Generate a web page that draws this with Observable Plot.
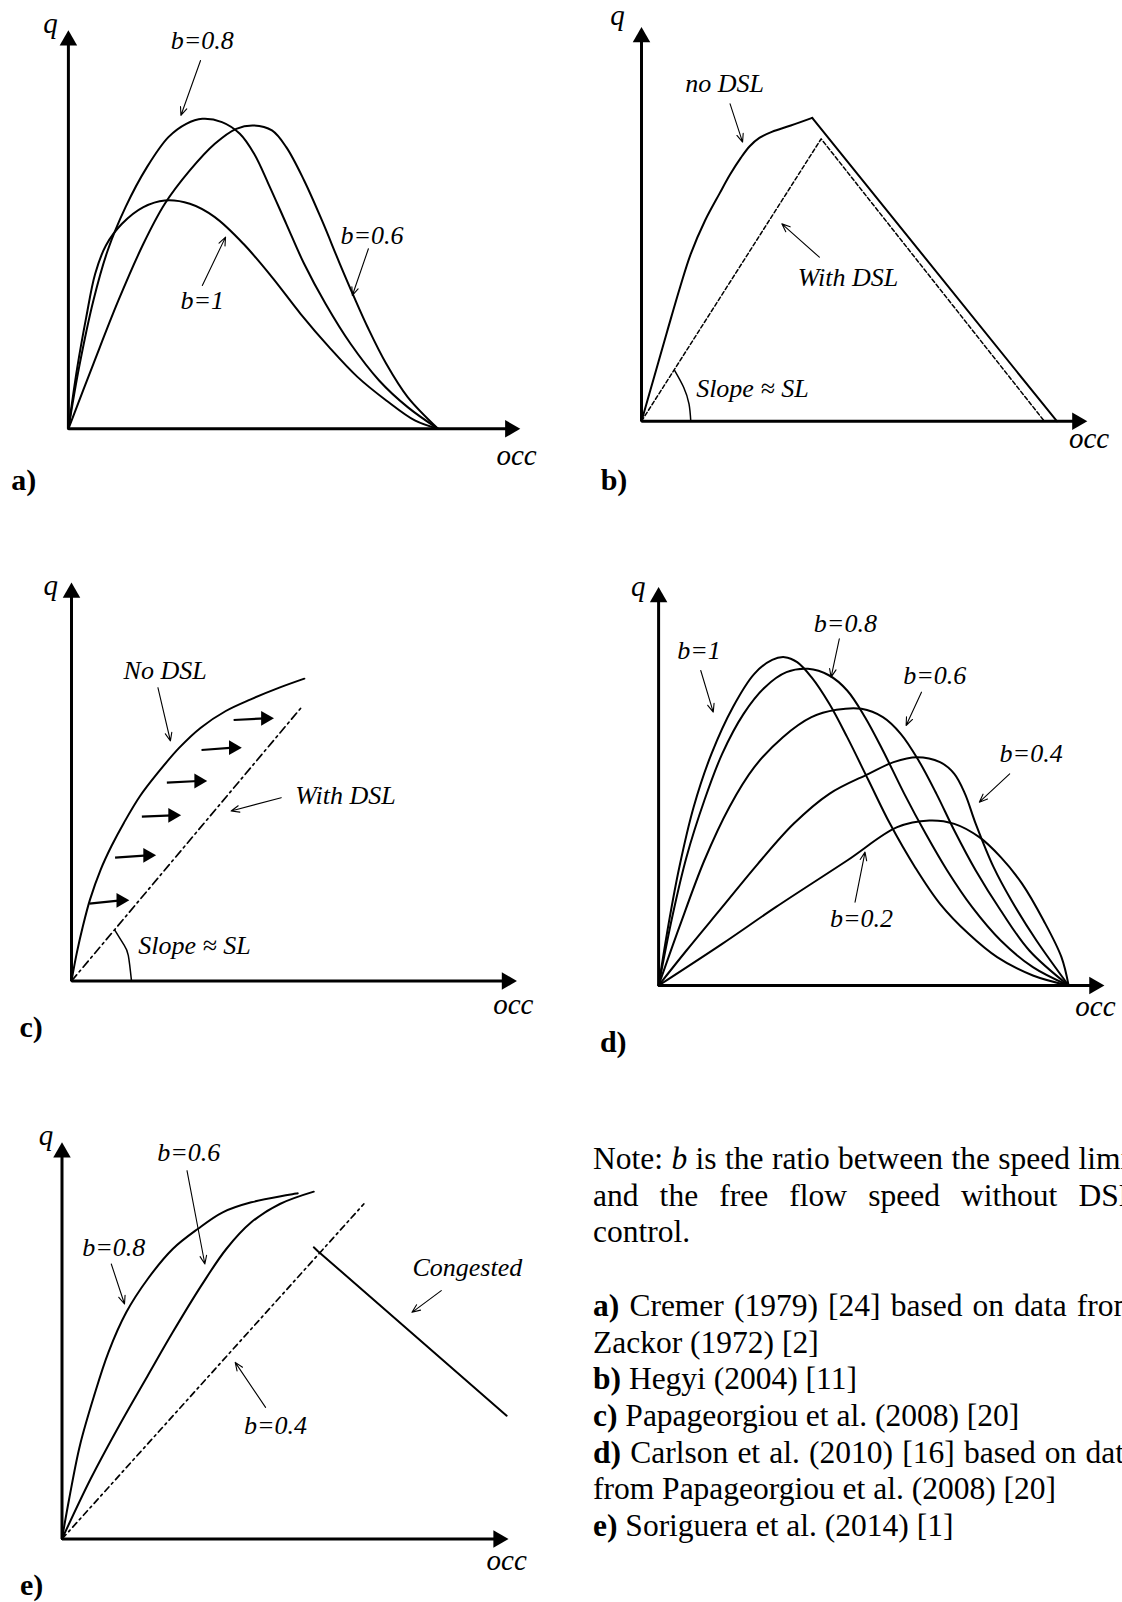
<!DOCTYPE html>
<html><head><meta charset="utf-8">
<script src="https://cdn.jsdelivr.net/npm/d3@7"></script>
<script src="https://cdn.jsdelivr.net/npm/@observablehq/plot@0.6"></script>
<style>
html,body{margin:0;padding:0;background:#fff;}
body{width:1122px;height:1602px;overflow:hidden;position:relative;font-family:"Liberation Serif","Times New Roman",serif;color:#000;}
#note{position:absolute;left:593px;top:1141px;width:545px;font-size:31.5px;line-height:36.7px;}
#note div{white-space:nowrap;}
#note div.j{white-space:normal;text-align:justify;text-align-last:justify;}
</style></head><body>
<div id="note"></div>
<script>
// ---------- data (occ, q) in schematic units ----------
// panel a: Cremer (1979)
const aAxis = {occEnd: 126.5, qEnd: 119.5};
const aB1  = [[0,0],[2.5,18.5],[5,33.5],[7.5,46.5],[10.5,55],[15,61.5],[21,66.5],[27,68.5],[34,67.5],[41,63.5],[49,55.5],[57,45.5],[65,34.5],[73,24.5],[81,15.5],[89,8.5],[97,2.5],[103.5,0]];
const aB08 = [[0,0],[3,18.5],[7,38.5],[11,53.5],[16,66.5],[22,78.5],[28,87.5],[33,91.5],[37.5,93],[43,92],[48,88.5],[52,82.5],[56,73.5],[61,61.5],[66,49.5],[72,37.5],[79,25.5],[87,14.5],[95,6.5],[103.5,0]];
const aB06 = [[0,0],[7,19.5],[14,38.5],[21,55.5],[27,67.5],[34,77.5],[41,85.5],[47,90],[52,91],[57,89.5],[61,84.5],[66,74.5],[71,62.5],[76,49.5],[80,39.5],[84,30],[89,19.5],[95,9.5],[103.5,0]];
const aLabels = [
  {text:"b=0.8", occ:37.5, q:116.5},
  {text:"b=0.6", occ:85, q:58},
  {text:"b=1", occ:37.5, q:38.5}
];
const aArrows = [
  {x1:37, y1:110.5, x2:31.5, y2:94},
  {x1:84, y1:54, x2:79.5, y2:40},
  {x1:37.5, y1:43, x2:44, y2:57.5}
];
const aAxisText = {q:[-5,121.5], occ:[125.5,-8], letter:[-12.5,-15.5]};

// panel b: Hegyi (2004)
const bAxis = {occEnd: 124.8, qEnd: 118.2};
const bNoDSL = [[0,0],[3.6,13.5],[7.2,27],[10.8,40.2],[13.8,50.2],[17.8,60.2],[21.8,68.2],[24.8,74],[27.8,79],[30.3,82.5],[33,85],[36.5,86.8],[41.8,88.7],[47.8,91]];
const bCongested = [[47.8,91],[116.3,0]];
const bWithDSL = [[0,0],[50.3,84.7],[112.8,0]];
const bArc = [[9.3,15.2],[11.8,10.2],[13.3,5.2],[13.8,0]];
const bLabels = [
  {text:"no DSL", occ:23.3, q:101.2},
  {text:"With DSL", occ:57.8, q:43.2}
];
const bSlope = {text:"Slope ≈ SL", occ:15.3, q:9.7};
const bArrows = [
  {x1:24.8, y1:95.2, x2:28.3, y2:83.7},
  {x1:49.8, y1:49.2, x2:39.3, y2:59.2}
];
const bAxisText = {q:[-6.7,121.7], occ:[125.3,-5.3], letter:[-7.7,-17.8]};

// panel c: Papageorgiou et al. (2008)
const cAxis = {occEnd: 124.7, qEnd: 119.5};
const cNoDSL = [[0,0],[1.5,8.5],[3.2,16.5],[5.2,24.5],[8.2,33.5],[11.2,40.5],[14.7,47.5],[19.2,55.5],[24.2,62.5],[30.2,70],[36.2,76],[43.2,81],[50.2,84.5],[58.2,88],[65.2,90.7]];
const cWithDSL = [[0,0],[64.7,82.5]];
const cArc = [[12.1,15.3],[14.6,11],[15.9,7.7],[16.8,0]];
const cShift = [
  {x1:5, y1:23.2, x2:16.2, y2:24.2},
  {x1:12.2, y1:37, x2:23.7, y2:37.7},
  {x1:19.7, y1:49.3, x2:30.7, y2:49.7},
  {x1:26.7, y1:59.5, x2:38, y2:60},
  {x1:36.4, y1:69.3, x2:47.7, y2:70},
  {x1:45.4, y1:78.3, x2:56.7, y2:78.8}
];
const cLabels = [
  {text:"No DSL", occ:26.2, q:93},
  {text:"With DSL", occ:76.7, q:55.5}
];
const cSlope = {text:"Slope ≈ SL", occ:18.7, q:10.5};
const cArrows = [
  {x1:24.2, y1:88, x2:27.7, y2:72},
  {x1:58.7, y1:55, x2:44.7, y2:51}
];
const cAxisText = {q:[-5.8,118.5], occ:[123.7,-7], letter:[-11.3,-14]};

// panel d: Carlson et al. (2010)
const dAxis = {occEnd: 124.8, qEnd: 119.5};
const dB1  = [[0,0],[2.8,18.5],[5.8,35.5],[9.8,53.5],[14.8,69.5],[20.8,83.5],[26.8,93.5],[31.8,97.7],[35.3,98.5],[38.8,97],[42.8,92.5],[47.8,84.5],[52.8,74.5],[58.8,61.5],[64.8,48.5],[71.8,35.5],[78.8,24.5],[86.8,15.5],[94.8,8.5],[104.8,3],[114.8,0]];
const dB08 = [[0,0],[3.8,20.5],[7.8,38.5],[12.8,55.5],[17.8,69.5],[23.8,81.5],[29.8,89.5],[35.8,94],[41.8,95],[47.8,93],[52.8,88.5],[57.8,80.5],[62.8,70.5],[68.8,57.5],[74.8,45.5],[80.8,34.5],[87.8,23.5],[95.8,13.5],[104.8,5.5],[114.8,0]];
const dB06 = [[0,0],[5.8,17.5],[12.8,37.5],[19.8,53.5],[26.8,65.5],[34.8,74.5],[42.8,80.5],[49.8,82.7],[56.8,83],[62.8,80.5],[67.8,75.5],[72.8,67.5],[77.8,57.5],[82.8,46.5],[88.8,34.5],[95.8,22.5],[103.8,10.5],[114.8,0]];
const dB04 = [[0,0],[7.8,10.5],[17.8,23.5],[27.8,36.5],[37.8,48.5],[47.8,57.5],[58.8,63.5],[65.8,67],[72.3,68.5],[78.8,67],[82.8,63.5],[85.8,57.5],[88.8,48.5],[93.8,35.5],[98.8,25.5],[105.8,13.5],[114.8,0]];
const dB02 = [[0,0],[17.8,12.5],[32.8,23.5],[52.8,37.5],[66.8,47.5],[75.8,49.5],[82.8,48.5],[89.8,44.5],[95.8,38.5],[101.8,30.5],[107.8,19.5],[112.8,8.5],[114.8,0]];
const dLabels = [
  {text:"b=1", occ:11.3, q:100.5},
  {text:"b=0.8", occ:52.3, q:108.5},
  {text:"b=0.6", occ:77.3, q:93},
  {text:"b=0.4", occ:104.3, q:69.5},
  {text:"b=0.2", occ:56.8, q:20}
];
const dArrows = [
  {x1:11.8, y1:94.5, x2:15.3, y2:82},
  {x1:50.6, y1:104, x2:48.3, y2:92.5},
  {x1:73.6, y1:88, x2:69.3, y2:78},
  {x1:98.3, y1:63.5, x2:89.8, y2:55},
  {x1:55, y1:25, x2:57.8, y2:40}
];
const dAxisText = {q:[-5.7,119.5], occ:[122.3,-6.5], letter:[-12.7,-17]};

// panel e: Soriguera et al. (2014)
const eAxis = {occEnd: 125, qEnd: 119};
const eB08 = [[0,0],[2,12],[5,28],[9,43],[13,56],[18,68],[24,78],[31,87],[38,93],[45,98],[53,101],[66,103.7]];
const eB06 = [[0,0],[8,18],[16,34],[24,49],[31,62],[39,76],[46,87],[53,95],[61,100.5],[70.5,104.2]];
const eB04 = [[0,0],[84.5,100.5]];
const eCongested = [[70.5,87.5],[71.5,86.5],[124.5,37]];
const eLabels = [
  {text:"b=0.6", occ:35.5, q:116},
  {text:"b=0.8", occ:14.5, q:87.5},
  {text:"b=0.4", occ:59.8, q:34},
  {text:"Congested", occ:113.5, q:81.5}
];
const eArrows = [
  {x1:35, y1:110.5, x2:40, y2:82.5},
  {x1:13.8, y1:82.5, x2:17.5, y2:70.5},
  {x1:57, y1:39.5, x2:48.5, y2:53},
  {x1:106.2, y1:74.5, x2:98, y2:68}
];
const eAxisText = {q:[-4.5,121], occ:[124.5,-6.5], letter:[-8.5,-14]};

// note
const noteLines = [
  {html:"Note: <i>b</i> is the ratio between the speed limit", j:true},
  {html:"and the free flow speed without DSL", j:true},
  {html:"control."},
  {html:"&nbsp;"},
  {html:"<b>a)</b> Cremer (1979) [24] based on data from", j:true},
  {html:"Zackor (1972) [2]"},
  {html:"<b>b)</b> Hegyi (2004) [11]"},
  {html:"<b>c)</b> Papageorgiou et al. (2008) [20]"},
  {html:"<b>d)</b> Carlson et al. (2010) [16] based on data", j:true},
  {html:"from Papageorgiou et al. (2008) [20]"},
  {html:"<b>e)</b> Soriguera et al. (2014) [1]"}
];

// ---------- drawing ----------
const KX = 10/2.8, KY = 10/3;
const FONT = "Liberation Serif, Times New Roman, serif";
const X = d => d[0], Y = d => d[1];

function axisMarks(axis, txt, letter) {
  const links = [
    {x1:0, y1:0, x2:axis.occEnd - 2.6, y2:0},
    {x1:0, y1:0, x2:0, y2:axis.qEnd - 2.8}
  ];
  const heads = [
    {x:axis.occEnd - 2.8, y:0, rot:90},
    {x:0, y:axis.qEnd - 3.0, rot:0}
  ];
  return [
    Plot.link(links, {x1:"x1", y1:"y1", x2:"x2", y2:"y2", stroke:"#000", strokeWidth:3}),
    Plot.dot(heads, {x:"x", y:"y", rotate:"rot", symbol:"triangle", r:6.5, fill:"#000", stroke:"none"}),
    Plot.text([{t:"q", p:txt.q},{t:"occ", p:txt.occ}], {x:d=>d.p[0], y:d=>d.p[1], text:"t", fontSize:29, fontStyle:"italic", fontFamily:FONT, textAnchor:"middle", lineAnchor:"middle", fill:"#000"}),
    Plot.text([{t:letter, p:txt.letter}], {x:d=>d.p[0], y:d=>d.p[1], text:"t", fontSize:30, fontWeight:"bold", fontFamily:FONT, textAnchor:"middle", lineAnchor:"middle", fill:"#000"})
  ];
}
function curveMark(data, extra={}) {
  return Plot.line(data, {x:X, y:Y, curve:"catmull-rom", stroke:"#000", strokeWidth:2, ...extra});
}
function labelMark(labels, anchor="middle") {
  return Plot.text(labels, {x:"occ", y:"q", text:"text", fontSize:26, fontStyle:"italic", fontFamily:FONT, textAnchor:anchor, lineAnchor:"middle", fill:"#000"});
}
function arrowMark(arrows) {
  return Plot.arrow(arrows, {x1:"x1", y1:"y1", x2:"x2", y2:"y2", stroke:"#000", strokeWidth:1.1, headLength:12, headAngle:44});
}
function panel(left, top, w, h, ox, oy, marks) {
  const lox = ox - left, loy = oy - top;
  const svg = Plot.plot({
    width:w, height:h, margin:0,
    style:{background:"transparent", overflow:"visible", fontFamily:FONT},
    x:{domain:[0,100], range:[lox, lox + 100*KX], axis:null},
    y:{domain:[0,100], range:[loy, loy - 100*KY], axis:null},
    marks
  });
  svg.style.position = "absolute";
  svg.style.left = left + "px";
  svg.style.top = top + "px";
  document.body.appendChild(svg);
}

// a
panel(0, 0, 561, 535, 67.9, 428.3, [
  curveMark(aB1), curveMark(aB08), curveMark(aB06),
  labelMark(aLabels), arrowMark(aArrows),
  ...axisMarks(aAxis, aAxisText, "a)")
]);
// b
panel(561, 0, 561, 535, 641, 420.7, [
  curveMark(bNoDSL),
  Plot.line(bCongested, {x:X, y:Y, stroke:"#000", strokeWidth:2}),
  Plot.line(bWithDSL, {x:X, y:Y, stroke:"#000", strokeWidth:1.5, strokeDasharray:"4,2.5"}),
  Plot.line(bArc, {x:X, y:Y, curve:"natural", stroke:"#000", strokeWidth:1.5}),
  labelMark(bLabels), labelMark([bSlope], "start"), arrowMark(bArrows),
  ...axisMarks(bAxis, bAxisText, "b)")
]);
// c
panel(0, 540, 561, 535, 71, 980.5, [
  curveMark(cNoDSL),
  Plot.line(cWithDSL, {x:X, y:Y, stroke:"#000", strokeWidth:1.7, strokeDasharray:"8,4,2,4"}),
  Plot.line(cArc, {x:X, y:Y, curve:"natural", stroke:"#000", strokeWidth:1.5}),
  Plot.link(cShift, {x1:"x1", y1:"y1", x2:d=>d.x2 - 2.4, y2:"y2", stroke:"#000", strokeWidth:2.2}),
  Plot.dot(cShift, {x:d=>d.x2 - 2.4, y:"y2", symbol:"triangle", rotate:90, r:5.5, fill:"#000", stroke:"none"}),
  labelMark(cLabels), labelMark([cSlope], "start"), arrowMark(cArrows),
  ...axisMarks(cAxis, cAxisText, "c)")
]);
// d
panel(561, 540, 561, 535, 658.1, 985, [
  curveMark(dB1), curveMark(dB08), curveMark(dB06), curveMark(dB04), curveMark(dB02),
  labelMark(dLabels), arrowMark(dArrows),
  ...axisMarks(dAxis, dAxisText, "d)")
]);
// e
panel(0, 1080, 561, 522, 61.5, 1538.5, [
  curveMark(eB08), curveMark(eB06),
  Plot.line(eB04, {x:X, y:Y, stroke:"#000", strokeWidth:1.7, strokeDasharray:"6,4,2,4"}),
  Plot.line(eCongested, {x:X, y:Y, stroke:"#000", strokeWidth:2}),
  labelMark(eLabels), arrowMark(eArrows),
  ...axisMarks(eAxis, eAxisText, "e)")
]);

// note text
const note = document.getElementById("note");
for (const l of noteLines) {
  const div = document.createElement("div");
  if (l.j) div.className = "j";
  div.innerHTML = l.html;
  note.appendChild(div);
}
</script>
</body></html>
